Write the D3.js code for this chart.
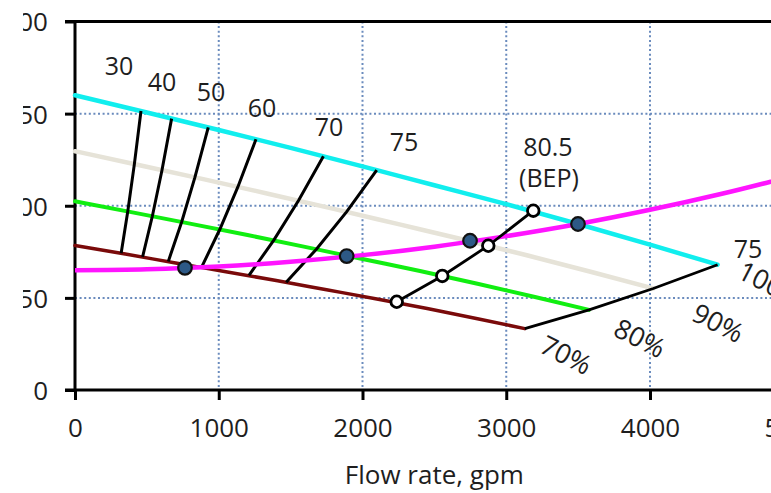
<!DOCTYPE html>
<html>
<head>
<meta charset="utf-8">
<script src="https://cdn.jsdelivr.net/npm/d3@7"></script>
<style>
  html, body { margin: 0; padding: 0; background: #fff; }
  svg { display: block; }
  text { font-family: "Open Sans", "Noto Sans", sans-serif; fill: #1e1e1e; }
</style>
</head>
<body>
<svg id="chart" width="771" height="493"></svg>
<script>
// ---- data ----
const flowTicks = [0, 1000, 2000, 3000, 4000, 5000];
const headTicks = [0, 50, 100, 150, 200];

// pump head curves at four speeds
const flow100 = [0, 500, 1000, 1500, 2000, 2500, 3000, 3500, 4000, 4470];
const head100 = [160, 150.6, 141.1, 131.4, 121.4, 111.1, 100.9, 90.1, 78.9, 68];
const flow90  = [0, 450, 900, 1350, 1800, 2250, 2700, 3150, 3600, 4023];
const head90  = [129.6, 122, 114.3, 106.4, 98.3, 90, 81.7, 73, 63.9, 55.1];
const flow80  = [0, 400, 800, 1200, 1600, 2000, 2400, 2800, 3200, 3576];
const head80  = [102.4, 96.4, 90.3, 84.1, 77.7, 71.1, 64.6, 57.7, 50.5, 43.5];
const flow70  = [0, 350, 700, 1050, 1400, 1750, 2100, 2450, 2800, 3129];
const head70  = [78.4, 73.8, 68.9, 64.2, 59.4, 54.4, 49.4, 44.2, 38.7, 33.3];

// system curve
const sysFlow = [0, 500, 1000, 1500, 2000, 2500, 3000, 3500, 4000, 4500, 5000];
const sysHead = [65, 65.5, 67, 69.6, 73.2, 77.8, 83.5, 90.1, 97.8, 106.5, 116.3];

// iso-efficiency lines (100%, 90%, 80%, 70% speed points)
const effLabels = ["30", "40", "50", "60", "70", "75"];
const effFlow = [
  [459, 413, 367, 321],
  [672, 605, 538, 470],
  [927, 834, 742, 649],
  [1259, 1133, 1007, 881],
  [1728, 1555, 1382, 1210],
  [2099, 1889, 1679, 1469]
];
const effHead = [
  [151.4, 122.6, 96.9, 74.2],
  [147.3, 119.3, 94.3, 72.2],
  [142.5, 115.4, 91.2, 69.8],
  [136.1, 110.2, 87.1, 66.7],
  [126.9, 102.8, 81.2, 62.2],
  [119.4, 96.7, 76.4, 58.5]
];
const effLabelFlow = [306, 605, 946, 1301, 1767, 2289];
const effLabelHead = [175.8, 167.2, 161.7, 153, 142.7, 134.6];

// best efficiency points (80.5 %)
const bepFlow = [2238, 2555, 2875, 3188];
const bepHead = [47.9, 61.9, 78.3, 97.3];

// operating points (system curve x pump curves)
const opFlow = [765, 1890, 2748, 3499];
const opHead = [66.3, 72.7, 81, 90.1];

// speed labels
const speedLabels = ["100%", "90%", "80%", "70%"];
const speedLabelFlow = [4840, 4473, 3930, 3416];
const speedLabelHead = [57.5, 36.4, 28.2, 19];

// other annotations
const noteTexts = ["80.5", "(BEP)", "75"];
const noteFlow = [3290, 3297, 4682];
const noteHead = [131.8, 114.8, 76.5];

const xTitle = "Flow rate, gpm";

// ---- drawing ----
const svg = d3.select("#chart");
const mL = 75, mR = 793.75, mT = 21.5, mB = 390;
const x = d3.scaleLinear().domain([0, 5000]).range([mL, mR]);
const y = d3.scaleLinear().domain([0, 200]).range([mB, mT]);

const zip = (a, b) => a.map((v, i) => [v, b[i]]);
const line = d3.line().x(d => x(d[0])).y(d => y(d[1])).curve(d3.curveMonotoneX);
const straight = d3.line().x(d => x(d[0])).y(d => y(d[1]));

// grid
const grid = svg.append("g").attr("stroke", "#6a8bbd").attr("stroke-width", 2)
  .attr("stroke-dasharray", "2,2.6").attr("fill", "none");
flowTicks.filter(v => v > 0).forEach(v => {
  grid.append("line").attr("x1", x(v)).attr("x2", x(v)).attr("y1", y(200)).attr("y2", y(0));
});
headTicks.filter(v => v > 0 && v < 200).forEach(v => {
  grid.append("line").attr("x1", x(0)).attr("x2", 771).attr("y1", y(v)).attr("y2", y(v));
});

// axes
const xAxis = d3.axisBottom(x).tickValues(flowTicks).tickSize(10).tickFormat(d3.format("d"));
const gx = svg.append("g").attr("transform", `translate(0,${mB})`).call(xAxis);
gx.select(".domain").remove();
gx.selectAll(".tick line").attr("stroke", "#000").attr("stroke-width", 3);
gx.selectAll(".tick text").attr("font-size", 26).attr("y", 28).attr("dy", "0.72em")
  .attr("fill", "#1e1e1e").attr("font-family", "Open Sans, Noto Sans, sans-serif");

const yAxis = d3.axisLeft(y).tickValues(headTicks).tickSize(10).tickFormat(d3.format("d"));
const gy = svg.append("g").attr("transform", `translate(${mL},0)`).call(yAxis);
gy.select(".domain").remove();
gy.selectAll(".tick line").attr("stroke", "#000").attr("stroke-width", 3);
gy.selectAll(".tick text").attr("font-size", 26).attr("x", -27).attr("dy", "0.36em")
  .attr("fill", "#1e1e1e").attr("font-family", "Open Sans, Noto Sans, sans-serif");
// left strip of the reference is cropped away
svg.append("rect").attr("x", 0).attr("y", 0).attr("width", 23).attr("height", 493).attr("fill", "#fff");

svg.append("line").attr("x1", mL - 10).attr("x2", 771).attr("y1", y(0)).attr("y2", y(0))
  .attr("stroke", "#000").attr("stroke-width", 3);
svg.append("line").attr("x1", mL - 10).attr("x2", 771).attr("y1", y(200)).attr("y2", y(200))
  .attr("stroke", "#000").attr("stroke-width", 3);
svg.append("line").attr("x1", mL).attr("x2", mL).attr("y1", y(0)).attr("y2", y(200))
  .attr("stroke", "#000").attr("stroke-width", 3);

svg.append("text").attr("x", (mL + mR) / 2).attr("y", 484).attr("text-anchor", "middle")
  .attr("font-size", 26).text(xTitle);

// speed curves
const curves = [
  { d: zip(flow90, head90), c: "#e6e3d8", w: 4.5 },
  { d: zip(flow80, head80), c: "#11ee11", w: 4 },
  { d: zip(flow70, head70), c: "#7a0a0a", w: 3.5 },
  { d: zip(flow100, head100), c: "#11eeee", w: 4.5 }
];
curves.forEach(cv => {
  svg.append("path").attr("d", line(cv.d)).attr("fill", "none")
    .attr("stroke", cv.c).attr("stroke-width", cv.w).attr("stroke-linecap", "round");
});

// iso-efficiency lines
effFlow.forEach((fl, i) => {
  svg.append("path").attr("d", straight(zip(fl, effHead[i]))).attr("fill", "none")
    .attr("stroke", "#000").attr("stroke-width", 3);
});

// boundary of max flow
const endPts = [
  [flow70[flow70.length - 1], head70[head70.length - 1]],
  [flow80[flow80.length - 1], head80[head80.length - 1]],
  [flow90[flow90.length - 1], head90[head90.length - 1]],
  [flow100[flow100.length - 1], head100[head100.length - 1]]
];
svg.append("path").attr("d", straight(endPts)).attr("fill", "none")
  .attr("stroke", "#000").attr("stroke-width", 2.8);

// system curve
svg.append("path").attr("d", line(zip(sysFlow, sysHead))).attr("fill", "none")
  .attr("stroke", "#ff14ff").attr("stroke-width", 4.5);

// BEP line and points
svg.append("path").attr("d", straight(zip(bepFlow, bepHead))).attr("fill", "none")
  .attr("stroke", "#000").attr("stroke-width", 2.8);
svg.selectAll("circle.bep").data(zip(bepFlow, bepHead)).join("circle")
  .attr("class", "bep").attr("cx", d => x(d[0])).attr("cy", d => y(d[1])).attr("r", 5.8)
  .attr("fill", "#fff").attr("stroke", "#000").attr("stroke-width", 2.8);

// operating points
svg.selectAll("circle.op").data(zip(opFlow, opHead)).join("circle")
  .attr("class", "op").attr("cx", d => x(d[0])).attr("cy", d => y(d[1])).attr("r", 6.8)
  .attr("fill", "#2d5986").attr("stroke", "#111").attr("stroke-width", 2.2);

// labels
effLabels.forEach((t, i) => {
  svg.append("text").attr("x", x(effLabelFlow[i])).attr("y", y(effLabelHead[i]))
    .attr("text-anchor", "middle").attr("dy", "0.36em").attr("font-size", 25).text(t);
});
noteTexts.forEach((t, i) => {
  svg.append("text").attr("x", x(noteFlow[i])).attr("y", y(noteHead[i]))
    .attr("text-anchor", "middle").attr("dy", "0.36em").attr("font-size", 25).text(t);
});
speedLabels.forEach((t, i) => {
  const px = x(speedLabelFlow[i]), py = y(speedLabelHead[i]);
  svg.append("text").attr("transform", `translate(${px},${py}) rotate(27)`)
    .attr("text-anchor", "middle").attr("dy", "0.36em").attr("font-size", 27).text(t);
});
</script>
</body>
</html>
